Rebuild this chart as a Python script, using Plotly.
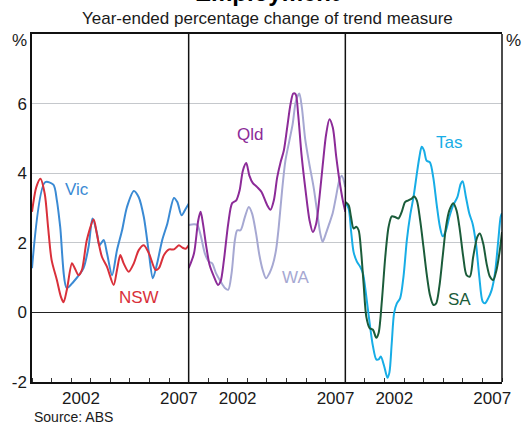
import plotly.graph_objects as go

# ---------------- data ----------------
vic_x = [2000.0, 2000.67, 2001.09, 2001.27, 2001.44, 2001.78, 2002.12, 2002.46, 2002.63, 2002.89,
         2003.09, 2003.32, 2003.44, 2003.66, 2003.83, 2004.09, 2004.34, 2004.6, 2004.85, 2005.2,
         2005.45, 2005.71, 2005.97, 2006.17, 2006.39, 2006.65, 2006.91, 2007.25, 2007.42, 2007.64,
         2007.85, 2008.0]
vic_y = [1.27, 3.74, 3.67, 3.22, 2.46, 0.70, 0.88, 1.12, 1.27, 1.89,
         2.70, 2.27, 1.93, 2.08, 1.70, 1.07, 1.79, 2.36, 3.03, 3.49,
         3.31, 2.74, 1.70, 0.98, 1.41, 2.08, 2.55, 3.29, 3.17, 2.79,
         2.98, 3.12]

nsw_x = [2000.0, 2000.22, 2000.43, 2000.65, 2000.82, 2001.0, 2001.27, 2001.47, 2001.61, 2001.78,
         2002.04, 2002.16, 2002.38, 2002.55, 2002.8, 2003.15, 2003.32, 2003.57, 2003.83, 2004.17,
         2004.34, 2004.51, 2004.68, 2004.94, 2005.2, 2005.45, 2005.71, 2005.97, 2006.31, 2006.48,
         2006.74, 2007.0, 2007.25, 2007.5, 2007.68, 2007.85, 2008.0]
nsw_y = [2.89, 3.60, 3.84, 3.41, 2.46, 1.51, 0.93, 0.46, 0.29, 0.65,
         1.41, 1.30, 1.07, 1.22, 2.08, 2.67, 2.23, 1.60, 1.31, 0.79,
         1.22, 1.65, 1.41, 1.17, 1.41, 1.79, 1.93, 1.70, 1.22, 1.27,
         1.65, 1.81, 1.81, 1.93, 1.86, 1.83, 1.93]

qld_x = [2000.0, 2000.27, 2000.49, 2000.61, 2000.73, 2000.9, 2001.07, 2001.29, 2001.5, 2001.63,
         2001.8, 2002.02, 2002.22, 2002.43, 2002.6, 2002.77, 2002.94, 2003.1, 2003.27, 2003.5,
         2003.72, 2004.01, 2004.18, 2004.35, 2004.52, 2004.69, 2004.86, 2005.03, 2005.2, 2005.34,
         2005.46, 2005.59, 2005.76, 2005.97, 2006.17, 2006.34, 2006.51, 2006.68, 2006.85, 2007.02,
         2007.19, 2007.36, 2007.53, 2007.7, 2007.87, 2008.0]
qld_y = [1.27, 1.69, 2.65, 2.89, 2.55, 1.89, 1.36, 1.03, 0.79, 0.89,
         1.50, 2.55, 3.14, 3.22, 3.50, 4.08, 4.29, 3.93, 3.72, 3.60,
         3.46, 3.08, 2.95, 3.22, 3.88, 4.31, 4.65, 5.31, 5.98, 6.29,
         6.27, 5.70, 4.55, 3.50, 2.65, 2.31, 2.55, 3.31, 4.26, 5.12,
         5.55, 5.31, 4.50, 3.79, 3.22, 2.89]

wa_x = [2000.0, 2000.27, 2000.44, 2000.61, 2000.83, 2001.03, 2001.2, 2001.4, 2001.63, 2001.85,
        2002.02, 2002.19, 2002.36, 2002.48, 2002.65, 2002.87, 2003.07, 2003.24, 2003.44, 2003.61,
        2003.78, 2003.95, 2004.12, 2004.29, 2004.46, 2004.6, 2004.77, 2004.94, 2005.14, 2005.31,
        2005.48, 2005.65, 2005.78, 2005.95, 2006.16, 2006.38, 2006.55, 2006.72, 2006.84, 2007.01,
        2007.18, 2007.35, 2007.52, 2007.69, 2007.82, 2008.0]
wa_y = [2.51, 2.53, 2.51, 2.22, 1.69, 1.46, 1.41, 1.12, 0.89, 0.70,
        0.65, 1.12, 2.08, 2.36, 2.36, 2.74, 3.03, 2.84, 2.27, 1.65,
        1.22, 0.98, 1.12, 1.36, 1.79, 2.46, 3.50, 4.36, 4.93, 5.41,
        6.08, 6.29, 5.89, 4.98, 4.27, 3.60, 2.93, 2.27, 2.03, 2.27,
        2.55, 2.84, 3.31, 3.79, 3.93, 3.60]

tas_x = [2000.0, 2000.17, 2000.29, 2000.42, 2000.59, 2000.76, 2000.9, 2001.07, 2001.24, 2001.41,
         2001.58, 2001.7, 2001.81, 2001.98, 2002.15, 2002.25, 2002.37, 2002.49, 2002.63, 2002.8,
         2002.97, 2003.14, 2003.31, 2003.48, 2003.65, 2003.78, 2003.9, 2004.02, 2004.15, 2004.32,
         2004.49, 2004.66, 2004.83, 2004.97, 2005.14, 2005.31, 2005.51, 2005.72, 2005.89, 2005.99,
         2006.16, 2006.33, 2006.5, 2006.67, 2006.84, 2007.01, 2007.13, 2007.3, 2007.47, 2007.64,
         2007.81, 2007.93, 2008.0]
tas_y = [3.17, 2.98, 2.36, 1.74, 1.46, 1.31, 1.12, 0.46, -0.30, -0.97,
         -1.35, -1.35, -1.27, -1.54, -1.88, -1.73, -0.88, -0.02, 0.26, 0.41,
         1.03, 2.07, 2.79, 3.31, 3.98, 4.46, 4.76, 4.65, 4.36, 4.31,
         3.88, 3.12, 2.46, 2.19, 2.36, 2.74, 3.08, 3.31, 3.69, 3.77,
         3.31, 2.84, 2.55, 1.98, 1.03, 0.31, 0.26, 0.41, 0.64, 1.12,
         2.07, 2.74, 2.85]

sa_x = [2000.0, 2000.17, 2000.29, 2000.42, 2000.56, 2000.68, 2000.8, 2000.93, 2001.07, 2001.24,
        2001.41, 2001.58, 2001.7, 2001.87, 2002.04, 2002.21, 2002.37, 2002.54, 2002.71, 2002.88,
        2003.05, 2003.22, 2003.39, 2003.51, 2003.65, 2003.82, 2003.99, 2004.15, 2004.32, 2004.49,
        2004.63, 2004.8, 2004.97, 2005.14, 2005.31, 2005.51, 2005.68, 2005.85, 2006.02, 2006.19,
        2006.36, 2006.53, 2006.74, 2006.87, 2007.04, 2007.21, 2007.38, 2007.55, 2007.72, 2007.89,
        2008.0]
sa_y = [3.17, 3.08, 2.74, 2.41, 2.46, 2.36, 1.79, 0.84, -0.12, -0.45,
        -0.50, -0.73, -0.59, 0.36, 1.60, 2.46, 2.76, 2.74, 2.70, 2.89,
        3.17, 3.22, 3.27, 3.33, 3.22, 2.65, 1.88, 1.12, 0.50, 0.22,
        0.25, 0.74, 1.60, 2.46, 2.93, 3.14, 2.93, 2.36, 1.60, 1.07,
        1.03, 1.60, 2.17, 2.27, 1.98, 1.41, 1.03, 0.93, 1.22, 1.79,
        2.31]

year_ticks = list(range(2000, 2009))
label_vals = [2002.5, 2007.5]
label_text = ["2002", "2007"]
y_ticks = [-2, 0, 2, 4, 6]
y_text = ["-2", "0", "2", "4", "6"]

# ---------------- styling ----------------
FONT = "Liberation Sans, Arial, sans-serif"
C_VIC = "#3a8ad4"
C_NSW = "#d9303a"
C_QLD = "#8c2b98"
C_WA = "#a6a8d2"
C_TAS = "#17ade6"
C_SA = "#1b5c3a"
TXT = "#1a1a1a"

fig = go.Figure()

def add(x, y, color, xa):
    fig.add_trace(go.Scatter(x=x, y=y, mode="lines", xaxis=xa, yaxis="y",
                             line=dict(color=color, width=2, shape="spline", smoothing=0.8),
                             showlegend=False, hoverinfo="skip"))

add(vic_x, vic_y, C_VIC, "x")
add(nsw_x, nsw_y, C_NSW, "x")
add(wa_x, wa_y, C_WA, "x2")
add(qld_x, qld_y, C_QLD, "x2")
add(tas_x, tas_y, C_TAS, "x3")
add(sa_x, sa_y, C_SA, "x3")

xcommon = dict(range=[2000, 2008], tickvals=label_vals, ticktext=label_text, ticks="",
               showgrid=False, zeroline=False, showline=True, linecolor="#111", linewidth=1.5,
               mirror=True, tickfont=dict(size=17, color=TXT, family=FONT),
               minor=dict(tickvals=year_ticks, ticks="inside", ticklen=4, tickcolor="#333",
                          tickwidth=1, showgrid=False),
               anchor="y", fixedrange=True, automargin=False)

fig.update_layout(
    width=525, height=424,
    margin=dict(l=32, r=23, t=34, b=42),
    paper_bgcolor="white", plot_bgcolor="white",
    font=dict(family=FONT, color=TXT),
    xaxis=dict(domain=[0, 1/3], **xcommon),
    xaxis2=dict(domain=[1/3, 2/3], **xcommon),
    xaxis3=dict(domain=[2/3, 1], **xcommon),
    yaxis=dict(range=[-2, 8], tickvals=y_ticks, ticktext=y_text, ticks="", showgrid=True,
               gridcolor="#c5c8cc", gridwidth=1.3, zeroline=True, zerolinecolor="#222",
               zerolinewidth=1.3, showline=True, linecolor="#111", linewidth=1.5, mirror=False,
               tickfont=dict(size=17, color=TXT, family=FONT), anchor="x", fixedrange=True,
               automargin=False),
    yaxis2=dict(range=[-2, 8], tickvals=y_ticks, ticktext=y_text, ticks="", showgrid=False,
                zeroline=False, showline=False, overlaying="y", side="right", anchor="x3",
                tickfont=dict(size=17, color=TXT, family=FONT), fixedrange=True,
                automargin=False),
)

# panel dividers and right frame
for xr, xv in (("x2 domain", 0), ("x3 domain", 0), ("x3 domain", 1)):
    fig.add_shape(type="line", xref=xr, x0=xv, x1=xv, yref="y domain", y0=0, y1=1,
                  line=dict(color="#111", width=1.5), layer="above")

ann = []
def lab(text, x, y, color, xa):
    ann.append(dict(text=text, x=x, y=y, xref=xa, yref="y", showarrow=False,
                    font=dict(size=17, color=color, family=FONT)))

lab("Vic", 2002.31, 3.52, C_VIC, "x")
lab("NSW", 2005.44, 0.43, C_NSW, "x")
lab("Qld", 2003.11, 5.12, C_QLD, "x2")
lab("WA", 2005.43, 1.0, C_WA, "x2")
lab("Tas", 2005.28, 4.89, C_TAS, "x3")
lab("SA", 2005.85, 0.37, C_SA, "x3")

ann.append(dict(text="<b>Employment</b>", x=0.5, y=1, xref="paper", yref="paper",
                yanchor="middle", yshift=42, showarrow=False,
                font=dict(size=24, color="#000", family=FONT)))
ann.append(dict(text="Year-ended percentage change of trend measure", x=0.5, y=1,
                xref="paper", yref="paper", yanchor="middle", yshift=16, showarrow=False,
                font=dict(size=17, color=TXT, family=FONT)))
ann.append(dict(text="%", x=0, y=1, xref="paper", yref="paper", xanchor="center",
                yanchor="middle", xshift=-13, yshift=-6, showarrow=False,
                font=dict(size=17, color=TXT, family=FONT)))
ann.append(dict(text="%", x=1, y=1, xref="paper", yref="paper", xanchor="center",
                yanchor="middle", xshift=11, yshift=-6, showarrow=False,
                font=dict(size=17, color=TXT, family=FONT)))
ann.append(dict(text="Source: ABS", x=0, y=0, xref="paper", yref="paper", xanchor="left",
                yanchor="middle", yshift=-35, showarrow=False,
                font=dict(size=14, color=TXT, family=FONT)))
fig.update_layout(annotations=ann)

fig.write_html("out.html", config={"displayModeBar": False},
               post_script="document.body.style.margin='0';document.body.style.overflow='hidden';")
